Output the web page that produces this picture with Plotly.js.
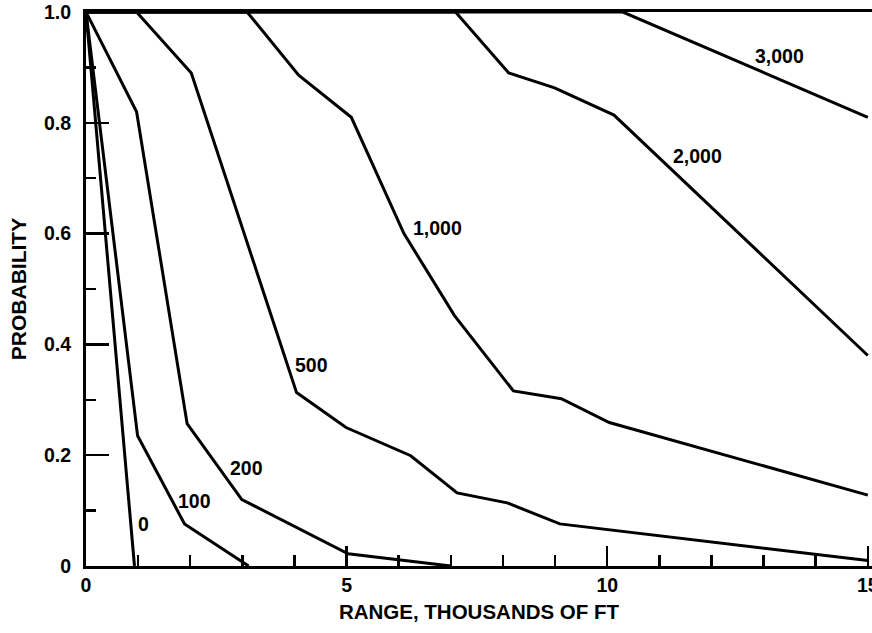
<!DOCTYPE html>
<html>
<head>
<meta charset="utf-8">
<script src="https://cdn.plot.ly/plotly-3.0.1.min.js"></script>
<style>html,body{margin:0;padding:0;background:#fff;}#chart{width:872px;height:633px;}</style>
</head>
<body>
<div id="chart"></div>
<script>
// Range in thousands of ft, probability values
const curveNames = ['0', '100', '200', '500', '1,000', '2,000', '3,000'];

const range0 = [0, 0.93];
const prob0  = [1, 0];

const range100 = [0, 0.99, 1.89, 3.12];
const prob100  = [1, 0.235, 0.076, 0];

const range200 = [0, 0.97, 1.94, 2.99, 5.03, 7.0];
const prob200  = [1, 0.82, 0.257, 0.12, 0.022, 0];

const range500 = [0, 0.97, 2.02, 4.04, 4.99, 6.23, 7.12, 8.08, 9.09, 15];
const prob500  = [1, 1, 0.89, 0.313, 0.25, 0.199, 0.132, 0.114, 0.076, 0.01];

const range1000 = [0, 3.09, 4.08, 5.09, 6.1, 7.07, 8.2, 9.12, 10.04, 15];
const prob1000  = [1, 1, 0.886, 0.81, 0.6, 0.452, 0.316, 0.302, 0.259, 0.128];

const range2000 = [0, 7.09, 8.11, 8.99, 10.13, 15];
const prob2000  = [1, 1, 0.89, 0.863, 0.814, 0.38];

const range3000 = [0, 10.3, 15];
const prob3000  = [1, 1, 0.81];

// label anchor points (range, probability) for each curve name
const labelRange = [1.1, 2.08, 3.07, 4.32, 6.74, 11.73, 13.31];
const labelProb  = [0.076, 0.118, 0.177, 0.362, 0.611, 0.74, 0.92];

const xTickVals = [0, 5, 10, 15];
const xTickText = ['0', '5', '10', '15'];
const yTickVals = [0, 0.2, 0.4, 0.6, 0.8, 1.0];
const yTickText = ['0', '0.2', '0.4', '0.6', '0.8', '1.0'];

const seriesX = [range0, range100, range200, range500, range1000, range2000, range3000];
const seriesY = [prob0, prob100, prob200, prob500, prob1000, prob2000, prob3000];

const FONT = 'Liberation Sans, Arial, Helvetica, sans-serif';

const traces = seriesX.map((xs, i) => ({
  type: 'scatter', mode: 'lines', x: xs, y: seriesY[i], name: curveNames[i],
  line: {color: '#000', width: 3}, hoverinfo: 'skip'
}));

const annotations = curveNames.map((n, i) => ({
  x: labelRange[i], y: labelProb[i], xref: 'x', yref: 'y', text: n, showarrow: false,
  font: {family: FONT, size: 19.5, color: '#000', weight: 'bold'}
}));

const layout = {
  width: 872, height: 633,
  margin: {l: 86, r: 0, t: 12, b: 67},
  paper_bgcolor: '#fff', plot_bgcolor: '#fff',
  showlegend: false,
  annotations: annotations,
  xaxis: {
    range: [0, 15.08], tickvals: xTickVals, ticktext: xTickText,
    ticks: 'inside', ticklen: 20, tickwidth: 2.5, tickcolor: '#000',
    minor: {dtick: 1, ticks: 'inside', ticklen: 11, tickwidth: 2.5, tickcolor: '#000'},
    showline: true, linewidth: 3, linecolor: '#000', mirror: true,
    showgrid: false, zeroline: false,
    ticklabeloverflow: 'allow',
    tickfont: {family: FONT, size: 19.5, color: '#000', weight: 'bold'},
    title: {text: 'RANGE, THOUSANDS OF FT', standoff: 10,
            font: {family: FONT, size: 20.5, color: '#000', weight: 'bold'}}
  },
  yaxis: {
    range: [0, 1], tickvals: yTickVals, ticktext: yTickText,
    ticks: 'inside', ticklen: 23, tickwidth: 2.5, tickcolor: '#000',
    minor: {dtick: 0.1, ticks: 'inside', ticklen: 10, tickwidth: 2.5, tickcolor: '#000'},
    showline: true, linewidth: 3, linecolor: '#000', mirror: false,
    showgrid: false, zeroline: false,
    ticklabelstandoff: 8,
    tickfont: {family: FONT, size: 19.5, color: '#000', weight: 'bold'},
    title: {text: 'PROBABILITY', standoff: 12,
            font: {family: FONT, size: 21, color: '#000', weight: 'bold'}}
  }
};

Plotly.newPlot('chart', traces, layout, {staticPlot: true, displayModeBar: false});
</script>
</body>
</html>
